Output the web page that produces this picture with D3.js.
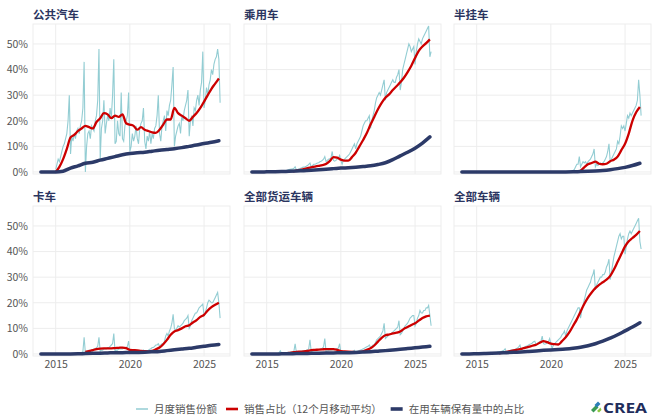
<!DOCTYPE html>
<html>
<head>
<meta charset="utf-8">
<script src="https://cdn.jsdelivr.net/npm/d3@7"></script>
<style>
  body { margin: 0; background: #fff; }
  svg { display: block; font-family: "Noto Sans CJK SC", "Noto Sans", sans-serif; }
</style>
</head>
<body>
<script>
// panel titles (row by row)
var panelTitles = ["公共汽车", "乘用车", "半挂车", "卡车", "全部货运车辆", "全部车辆"];
var legendLabels = ["月度销售份额", "销售占比（12个月移动平均）", "在用车辆保有量中的占比"];
var yTicks = [0, 10, 20, 30, 40, 50];
var xTicks = [2015, 2020, 2025];

// monthly sales share, % (first value = month given by *Start)
var busMonthlyStart = 2015.0;
var busMonthly = [
  1,3,5,4,6,8,10,11,13,15,20,30,
  7,14,12,15,13,16,17,15,18,20,25,43,
  0,10,15,16,13,18,17,16,20,22,28,48,
  5,17,20,28,15,19,22,20,25,21,30,44,
  11,12,20,15,14,31,13,12,18,20,22,31,
  8,10,15,12,14,18,13,11,17,19,20,25,
  12,9,14,12,16,11,15,13,17,18,22,30,
  15,12,18,20,22,16,24,22,26,28,34,41,
  10,14,16,18,19,15,22,20,24,26,28,32,
  14,20,22,18,25,24,28,30,26,32,35,47,
  25,28,33,30,34,36,40,38,42,44,45,48,
  44,27];
var carMonthlyStart = 2016.0;
var carMonthly = [
  0.3,0.3,0.4,0.5,0.6,0.8,0.9,1,1.1,1.2,1.4,2,
  0.8,1,1.2,1.3,1.5,1.8,1.9,2,2.2,2.5,3,3.5,
  2,2.5,3,3,3.2,3.5,3.6,4,4.2,4.5,5,6,
  4,4.5,5,5.2,5.5,8,4.5,4.2,4.5,5,5.5,6.5,
  4.5,3,4.5,5,5.5,6,6.5,7,8,9,10,11,
  9,11,12,13,14,16,18,19,20,20,21,22,
  17,20,22,24,27,29,30,31,30,32,34,36,
  28,31,32,33,34,35,36,35,35,37,38,40,
  32,35,40,42,44,46,48,50,49,47,48,49,
  42,47,50,52,51,50,52,53,54,55,56,57,
  45,47];
var semiMonthlyStart = 2021.5;
var semiMonthly = [
  0.5,1,2,3,3,6,
  2,3,4,3.5,4,3,4,4.5,5,6,7,9,
  2,3,2.5,3,3.5,3,3.5,4,5,6,8,11,
  4,5,6,7,8,9,12,11,14,18,17,18,
  16,19,22,21,23,22,23,24,25,26,28,36,
  30,22];
var truckMonthlyStart = 2016.75;
var truckMonthly = [
  0.5,1,6.5,
  0.5,1,1,1.5,1,1.5,1.5,2,2,2.5,3,6.5,
  1,1.5,1.5,2,2,2,2.5,2.5,3,3.5,4,8,
  1,1.5,1.5,2,2,2,2,2.5,2.5,2.5,3,5,
  0.5,0.3,0.5,0.8,0.8,0.8,0.9,1,1,1,1.2,1.5,
  0.8,1,1.2,1.5,1.8,2,2.5,2.5,3,3.5,3.5,4,
  3,3.5,4,4,5,7,8,7,9,10,12,15.5,
  10,9,10,11,10.5,11,11.5,12,13,13.5,14,15,
  10,11,13,14,15,16,16,17,18,18.5,19,19.5,
  15,16,18,20,21,20.5,20,20,21,22,23,24,
  20,14];
var freightMonthlyStart = 2015.75;
var freightMonthly = [
  0.2,0.5,1.2,
  0.3,0.3,0.4,0.5,0.5,0.6,0.6,0.7,0.8,0.9,1,4,
  0.6,0.8,0.8,1,1,1.1,1.2,1.3,1.4,1.6,2,5.5,
  1,1.2,1.3,1.4,1.5,1.6,1.7,1.8,2,2.2,2.8,6,
  1,1.2,1.3,1.5,1.5,1.6,1.6,1.7,1.8,2,2.3,4,
  0.5,0.3,0.5,0.6,0.6,0.7,0.7,0.8,0.8,0.9,1,1.4,
  0.7,1,1.1,1.3,1.5,1.7,2,2.2,2.5,2.8,3,3.5,
  2.5,3,3.5,3.5,4.5,5.5,6,6.5,7,8,9,12,
  6,6.5,7,7.5,7.5,8,8.5,9,9.5,10,10.5,13,
  7.5,8,9,10,11,11.5,12,13,14,14.5,15,15,
  11,12,14,15,17,16,16,17,17,18,18,19,
  15,11];
var allMonthlyStart = 2015.5;
var allMonthly = [
  0.2,0.2,0.3,0.3,0.4,0.6,
  0.3,0.4,0.5,0.5,0.6,0.7,0.8,0.9,1,1.2,1.4,2,
  0.8,1,1.2,1.3,1.5,1.6,1.7,1.8,2,2.3,2.8,3.5,
  1.5,2,2.5,2.8,3,3.2,3.5,3.8,4,4.3,4.8,5,
  3.5,4,4.5,4.8,5,7,4,3.8,4,4.3,4.8,6,
  4,2,3.5,4,4.5,5,5.5,6,6.5,7.5,8,9,
  7,9,10,11,12,13,14,15,16,17,18,18,
  14,17,19,21,23,25,26,27,28,30,31,33,
  25,27,28,29,30,30,31,31,32,34,35,37,
  29,32,35,38,40,42,44,46,47,45,46,46,
  39,42,45,47,48,47,48,49,50,51,52,53,
  44,41];

// 12-month moving average of sales share, %, one value per quarter
var busAvgStart = 2015.0;
var busAvg = [0,2,5,9, 13.5,14.5,16,17, 18,17.5,17,19.5, 21,23,22.5,21, 22,21.5,22.5,19,
  18.5,18,16.5,17.5, 16.5,16,15.5,15.3, 16.5,18.5,20.5,20.5, 25,23,22,21,
  20,21.5,23,25, 27.5,30,32.5,34.5, 36.5];
var carAvgStart = 2016.75;
var carAvg = [0.2, 0.5,0.8,1.1,1.5, 1.8,2.1,2.4,2.7, 3.1,4.2,5.8,5.6, 4.8,4.4,4.4,5.8,
  7.5,10,12.5,15.2, 18.5,21.5,24.5,27, 29,30.3,32,33.5, 35,36.8,39,41.5,
  44.5,47.3,49,50.3, 51.8];
var semiAvgStart = 2021.75;
var semiAvg = [0, 0.5,1.8,3,3.5, 4,3.2,3,3.2, 4.2,4.8,6,8.5, 11,15,20,23.3, 25.4];
var truckAvgStart = 2017.0;
var truckAvg = [0.8,1.1,1.5,1.9, 2.1,2.2,2.2,2.2, 2.3,2.4,2.5,2.3, 1.6,1.5,1.4,1.2,
  1.1,1.0,1.2,1.8, 2.5,3.8,5.5,7.5, 8.8,9.3,10,10.8, 11.2,12.3,13.2,14.5,
  15.3,17,18.3,19.2, 20];
var freightAvgStart = 2016.25;
var freightAvg = [0.3,0.4,0.6, 0.8,0.9,1.0,1.2, 1.5,1.6,1.7,1.8, 1.9,1.9,1.9,1.6,
  1.1,1.0,0.9,0.8, 0.7,0.8,1.0,1.6, 2.2,3.3,4.8,6.3, 7.3,7.6,8,8.3,
  8.8,9.8,10.5,11.3, 12,13,14,14.7, 15];
var allAvgStart = 2016.5;
var allAvg = [0.2,0.5, 0.8,1.1,1.4,1.7, 2.0,2.4,2.8,3.2, 3.6,4.4,5.0,4.6, 4.0,3.8,3.7,5,
  6.5,8.5,11,13.5, 16.5,19.5,22,24, 25.7,27,28,29, 30.5,33,36,39,
  42,44,45.3,46.5, 48];

// share of vehicles in use, %, one value per half year from 2014
var stockStart = 2014.0;
var busStock = [0,0,0,0.3,1.5,2.4,3.4,3.8,4.6,5.3,6,6.7,7.2,7.5,7.7,8.1,8.5,8.8,9.1,9.5,10,10.5,11.1,11.6,12.2];
var carStock = [0,0,0.05,0.1,0.15,0.25,0.35,0.5,0.65,0.85,1.1,1.3,1.5,1.65,1.85,2.1,2.4,2.9,3.6,4.8,6.3,7.7,9.3,11.3,13.7];
var semiStock = [0,0,0,0,0,0,0,0,0,0,0,0,0,0,0,0.05,0.15,0.25,0.4,0.6,0.9,1.3,1.8,2.5,3.4];
var truckStock = [0,0,0,0,0,0.05,0.15,0.25,0.3,0.4,0.45,0.5,0.55,0.6,0.7,0.85,1.0,1.3,1.6,1.9,2.2,2.6,3.0,3.4,3.7];
var freightStock = [0,0,0,0,0.05,0.1,0.15,0.2,0.25,0.3,0.35,0.4,0.45,0.5,0.6,0.75,0.9,1.1,1.3,1.55,1.8,2.1,2.4,2.7,3.0];
var allStock = [0,0,0.1,0.18,0.25,0.35,0.5,0.65,0.8,1.0,1.2,1.4,1.55,1.7,1.9,2.2,2.6,3.2,4.0,5.0,6.2,7.5,9.0,10.5,12.2];

var monthlySeries = [busMonthly, carMonthly, semiMonthly, truckMonthly, freightMonthly, allMonthly];
var monthlyStarts = [busMonthlyStart, carMonthlyStart, semiMonthlyStart, truckMonthlyStart, freightMonthlyStart, allMonthlyStart];
var avgSeries = [busAvg, carAvg, semiAvg, truckAvg, freightAvg, allAvg];
var avgStarts = [busAvgStart, carAvgStart, semiAvgStart, truckAvgStart, freightAvgStart, allAvgStart];
var stockSeries = [busStock, carStock, semiStock, truckStock, freightStock, allStock];

// layout
var width = 652, height = 417;
var colX = [33, 244, 454];
var rowY = [24, 206];
var panelW = 197, panelH = 150;
var tealColor = "#93cdd3", redColor = "#cc0000", navyColor = "#2c3a68", titleColor = "#2b3560";

var svg = d3.select("body").append("svg")
  .attr("width", width)
  .attr("height", height);

var x = d3.scaleLinear().domain([2013.47, 2026.75]).range([0, panelW]);
var y = d3.scaleLinear().domain([-0.8, 57.8]).range([panelH, 0]);

function toPoints(values, start, step) {
  return values.map(function(v, i) { return [start + i * step, v]; });
}

var line = d3.line()
  .x(function(d) { return x(d[0]); })
  .y(function(d) { return y(d[1]); });
var smoothLine = d3.line()
  .curve(d3.curveMonotoneX)
  .x(function(d) { return x(d[0]); })
  .y(function(d) { return y(d[1]); });

panelTitles.forEach(function(title, i) {
  var col = i % 3, row = Math.floor(i / 3);
  var g = svg.append("g").attr("transform", "translate(" + colX[col] + "," + rowY[row] + ")");

  g.append("rect")
    .attr("width", panelW).attr("height", panelH)
    .attr("fill", "#fff").attr("stroke", "#ededed").attr("stroke-width", 1);

  g.selectAll(".hgrid").data(yTicks).enter().append("line")
    .attr("x1", 0).attr("x2", panelW)
    .attr("y1", function(d) { return y(d); }).attr("y2", function(d) { return y(d); })
    .attr("stroke", "#ededed").attr("stroke-width", 1);
  g.selectAll(".vgrid").data(xTicks).enter().append("line")
    .attr("y1", 0).attr("y2", panelH)
    .attr("x1", function(d) { return x(d); }).attr("x2", function(d) { return x(d); })
    .attr("stroke", "#ededed").attr("stroke-width", 1);

  g.append("text")
    .attr("x", 0).attr("y", -5)
    .attr("font-size", "11.5px").attr("font-weight", "bold")
    .attr("fill", titleColor)
    .text(title);

  g.append("path")
    .attr("d", line(toPoints(monthlySeries[i], monthlyStarts[i], 1 / 12)))
    .attr("fill", "none").attr("stroke", tealColor).attr("stroke-width", 1.1);
  g.append("path")
    .attr("d", smoothLine(toPoints(avgSeries[i], avgStarts[i], 0.25)))
    .attr("fill", "none").attr("stroke", redColor).attr("stroke-width", 2.3)
    .attr("stroke-linejoin", "round");
  g.append("path")
    .attr("d", smoothLine(toPoints(stockSeries[i], stockStart, 0.5)))
    .attr("fill", "none").attr("stroke", navyColor).attr("stroke-width", 3.5)
    .attr("stroke-linecap", "round");

  if (col === 0) {
    var yAxis = g.append("g").call(d3.axisLeft(y).tickValues(yTicks).tickSize(0).tickPadding(5)
      .tickFormat(function(d) { return d + "%"; }));
    yAxis.select(".domain").remove();
    yAxis.selectAll("text").attr("font-size", "10.5px").attr("fill", "#555")
      .attr("font-family", "\"Noto Sans CJK SC\", sans-serif");
  }
  if (row === 1) {
    var xAxis = g.append("g").attr("transform", "translate(0," + panelH + ")")
      .call(d3.axisBottom(x).tickValues(xTicks).tickSize(0).tickPadding(5).tickFormat(d3.format("d")));
    xAxis.select(".domain").remove();
    xAxis.selectAll("text").attr("font-size", "10.5px").attr("fill", "#555")
      .attr("font-family", "\"Noto Sans CJK SC\", sans-serif");
  }
});

// legend
var legendColors = [tealColor, redColor, navyColor];
var legendWidths = [1.5, 2.6, 3.6];
var lx = 136, ly = 409;
legendLabels.forEach(function(label, i) {
  svg.append("line")
    .attr("x1", lx).attr("x2", lx + 12).attr("y1", ly).attr("y2", ly)
    .attr("stroke", legendColors[i]).attr("stroke-width", legendWidths[i]);
  var t = svg.append("text")
    .attr("x", lx + 18).attr("y", ly + 3.8)
    .attr("font-size", "10.5px").attr("fill", "#555")
    .text(label);
  lx = lx + 18 + t.node().getComputedTextLength() + 9;
});

// CREA logo
var logo = svg.append("g").attr("transform", "translate(591,402)");
logo.append("path").attr("d", "M0,8 L5,3 L7.5,5.5 L2.5,10.5 Z").attr("fill", "#3b9a55");
logo.append("path").attr("d", "M3.5,3 L7,-0.5 L9.5,2 L6,5.5 Z").attr("fill", "#2c7fb8");
logo.append("path").attr("d", "M6,9 L9.5,5.5 L10.5,8 L8,10.5 Z").attr("fill", "#8cc63f");
svg.append("text")
  .attr("x", 603).attr("y", 412.5)
  .attr("font-size", "13.5px").attr("font-weight", "bold")
  .attr("font-family", "\"Open Sans\", \"Noto Sans\", sans-serif")
  .attr("textLength", 44).attr("lengthAdjust", "spacingAndGlyphs")
  .attr("fill", "#1f2d5c")
  .text("CREA");
</script>
</body>
</html>
